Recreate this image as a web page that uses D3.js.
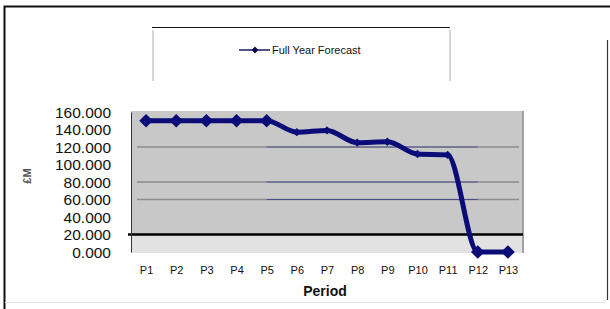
<!DOCTYPE html>
<html><head><meta charset="utf-8">
<script src="https://cdn.jsdelivr.net/npm/d3@7"></script>
<style>body{margin:0;background:#fff}svg{display:block}</style>
</head><body><svg id="c" width="610" height="309"></svg>
<script>
const categories = ["P1","P2","P3","P4","P5","P6","P7","P8","P9","P10","P11","P12","P13"];
const forecast = [150,150,150,150,150,137,139,125,126,112,111,0,0];
const yTicks = [0,20,40,60,80,100,120,140,160];
const gridValues = [120,80,60];
const seriesName = "Full Year Forecast";
const yTitle = "£M";
const xTitle = "Period";

const svg = d3.select("#c");
const font = "Arial, 'Liberation Sans', sans-serif";
const L=131, R=523, T=111, B=253;
const x = d3.scalePoint().domain(categories).range([L,R]).padding(0.5);
const y = d3.scaleLinear().domain([0,160]).range([B-1,T+1]);

// outer frame
svg.append("path").attr("d","M4.5,309 V6.5 H610").attr("fill","none").attr("stroke","#111").attr("stroke-width",2);
svg.append("line").attr("x1",607.5).attr("x2",607.5).attr("y1",40).attr("y2",300).attr("stroke","#333").attr("stroke-width",1.2);
svg.append("line").attr("x1",5).attr("x2",606).attr("y1",302.5).attr("y2",302.5).attr("stroke","#e6e6e6").attr("stroke-width",1);

// legend box
svg.append("line").attr("x1",152).attr("x2",450).attr("y1",27.5).attr("y2",27.5).attr("stroke","#111").attr("stroke-width",1);
[153,450].forEach(xx=>svg.append("line").attr("x1",xx).attr("x2",xx).attr("y1",30).attr("y2",81).attr("stroke","#bbb").attr("stroke-width",1.2));
const lg = svg.append("g");
lg.append("line").attr("x1",239).attr("x2",270).attr("y1",50).attr("y2",50).attr("stroke","#1a1a60").attr("stroke-width",1.5);
lg.append("path").attr("d",d3.symbol(d3.symbolDiamond2,30)()).attr("transform","translate(255,50)").attr("fill","#0a0a50");
lg.append("text").attr("x",272).attr("y",54).attr("font-family",font).attr("font-size",11).attr("fill","#111").text(seriesName);

// plot area
svg.append("rect").attr("x",L).attr("y",T).attr("width",R-L).attr("height",y(20)-T).attr("fill","#c8c8c8");
svg.append("rect").attr("x",L).attr("y",y(20)).attr("width",R-L).attr("height",B-y(20)).attr("fill","#e2e2e2");
svg.append("line").attr("x1",R).attr("x2",R).attr("y1",T).attr("y2",B).attr("stroke","#8a8a8a").attr("stroke-width",1.5);

// gridlines
svg.append("g").selectAll("line").data(gridValues).join("line")
  .attr("x1",L+6).attr("x2",R-4).attr("y1",d=>y(d)).attr("y2",d=>y(d))
  .attr("stroke","#8c8c8c").attr("stroke-width",1.5);
svg.append("g").selectAll("line").data(gridValues).join("line")
  .attr("x1",x("P5")).attr("x2",x("P12")).attr("y1",d=>y(d)).attr("y2",d=>y(d))
  .attr("stroke","#1c1c8a").attr("stroke-width",0.8).attr("opacity",0.7);

// black line at 20
svg.append("line").attr("x1",L-3).attr("x2",R).attr("y1",y(20)).attr("y2",y(20)).attr("stroke","#000").attr("stroke-width",2.5);

// y axis
const ya = svg.append("g").attr("transform",`translate(${L},0)`)
  .call(d3.axisLeft(y).tickValues(yTicks).tickSize(0).tickPadding(20).tickFormat(d=>d3.format(".3f")(d)));
ya.select(".domain").attr("stroke","#333").attr("stroke-width",1);
ya.selectAll("text").attr("font-family",font).attr("font-size",15.5).attr("fill","#111").attr("dy","0.35em");

// x axis
const xa = svg.append("g").attr("transform",`translate(0,${B})`)
  .call(d3.axisBottom(x).tickSize(0).tickPadding(13));
xa.select(".domain").remove();
xa.selectAll("text").attr("font-family",font).attr("font-size",11).attr("fill","#111");

// titles
svg.append("text").attr("x",(L+R)/2-2).attr("y",296).attr("text-anchor","middle").attr("font-family",font).attr("font-size",14).attr("font-weight","bold").attr("fill","#111").text(xTitle);
svg.append("text").attr("transform","translate(31,176) rotate(-90)").attr("text-anchor","middle").attr("font-family",font).attr("font-size",11).attr("font-weight","bold").attr("fill","#555").text(yTitle);

// series
const data = categories.map((c,i)=>({c,v:forecast[i]}));
svg.append("path").datum(data)
  .attr("d",d3.line().x(d=>x(d.c)).y(d=>y(d.v)).curve(d3.curveMonotoneX))
  .attr("fill","none").attr("stroke","#0c0c78").attr("stroke-width",5).attr("stroke-linejoin","round");
svg.append("g").selectAll("path").data(data).join("path")
  .attr("d",(d,i)=>d3.symbol(d3.symbolDiamond2,(i<5||i>10)?120:45)())
  .attr("transform",d=>`translate(${x(d.c)},${y(d.v)})`)
  .attr("fill","#0c0c78");
</script></body></html>
